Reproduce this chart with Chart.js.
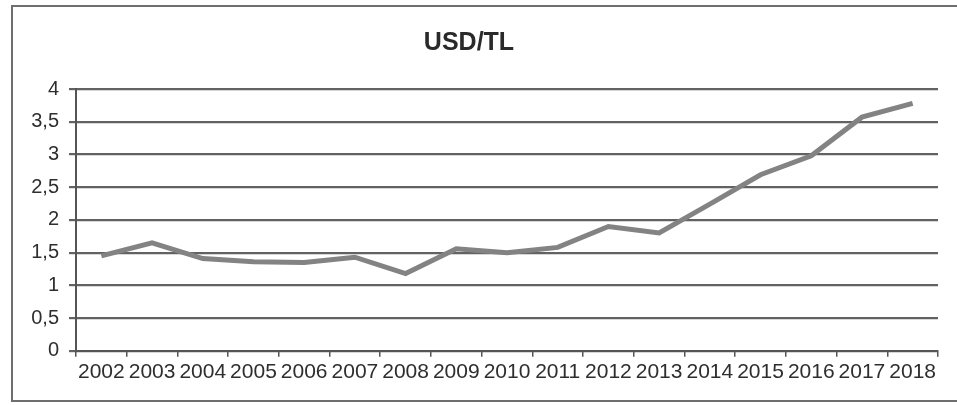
<!DOCTYPE html>
<html>
<head>
<meta charset="utf-8">
<script src="https://cdn.jsdelivr.net/npm/chart.js@4"></script>
<style>
  html, body { margin: 0; padding: 0; background: #fff; overflow: hidden; }
  #wrap { position: relative; width: 957px; height: 405px; }
  #frame { position: absolute; left: 11px; top: 5px; width: 960px; height: 397px; border: 2px solid #6e6e6e; box-sizing: border-box; }
  canvas { position: absolute; left: 0; top: 0; }
</style>
</head>
<body>
<div id="wrap">
  <div id="frame"></div>
  <canvas id="c" width="957" height="405"></canvas>
</div>
<script>
const titleText = "USD/TL";
const years = ["2002","2003","2004","2005","2006","2007","2008","2009","2010","2011","2012","2013","2014","2015","2016","2017","2018"];
const usdTl = [1.45, 1.65, 1.41, 1.36, 1.35, 1.43, 1.18, 1.56, 1.50, 1.58, 1.90, 1.80, 2.24, 2.69, 2.98, 3.57, 3.78];
const yMin = 0, yMax = 4, yStep = 0.5;

new Chart(document.getElementById('c'), {
  type: 'line',
  data: {
    labels: years,
    datasets: [{
      data: usdTl,
      borderColor: '#838383',
      borderWidth: 5,
      pointRadius: 0,
      tension: 0,
      fill: false
    }]
  },
  options: {
    responsive: false,
    animation: false,
    layout: { padding: { left: 0, right: 19, top: 28, bottom: 17 } },
    plugins: {
      legend: { display: false },
      tooltip: { enabled: false },
      title: {
        display: true,
        text: titleText,
        color: '#2a2a2a',
        font: { family: 'Liberation Sans, Arial, sans-serif', size: 25, weight: 'bold' },
        padding: { top: 0, bottom: 31 }
      }
    },
    scales: {
      x: {
        type: 'category',
        offset: true,
        grid: { offset: true, drawOnChartArea: false, drawTicks: true, tickLength: 6, color: '#555', lineWidth: 1.5 },
        border: { display: true, color: '#555', width: 2 },
        ticks: {
          autoSkip: false, maxRotation: 0, minRotation: 0, padding: 3,
          color: '#2e2e2e',
          font: { family: 'Liberation Sans, Arial, sans-serif', size: 21 }
        }
      },
      y: {
        min: yMin, max: yMax,
        afterFit: (s) => { s.width = 76; },
        grid: { color: '#626262', lineWidth: 2.2, tickLength: 7 },
        border: { display: true, color: '#555', width: 2 },
        ticks: {
          stepSize: yStep,
          padding: 10,
          color: '#2e2e2e',
          font: { family: 'Liberation Sans, Arial, sans-serif', size: 20 },
          callback: (v) => String(v).replace('.', ',')
        }
      }
    }
  }
});
</script>
</body>
</html>
